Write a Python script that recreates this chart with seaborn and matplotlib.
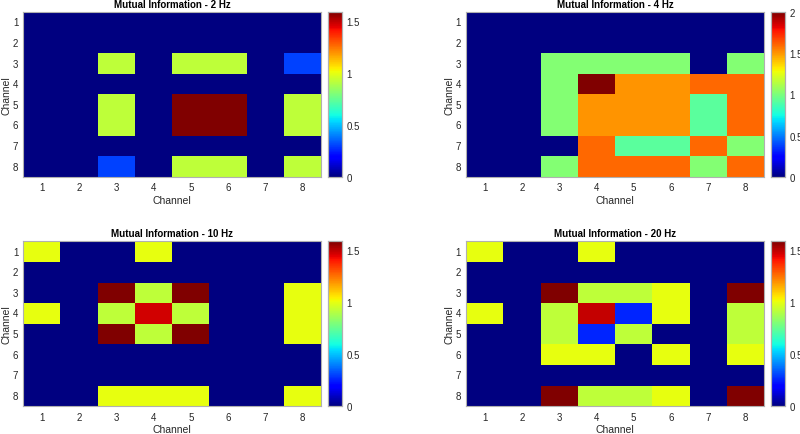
import numpy as np
import seaborn as sns
import matplotlib.pyplot as plt

# Channel labels
channels = [1, 2, 3, 4, 5, 6, 7, 8]

# Mutual information matrices (rows = channel on y, cols = channel on x)
mi_2hz = [
    [0, 0, 0, 0, 0, 0, 0, 0],
    [0, 0, 0, 0, 0, 0, 0, 0],
    [0, 0, 0.92, 0, 0.92, 0.92, 0, 0.30],
    [0, 0, 0, 0, 0, 0, 0, 0],
    [0, 0, 0.92, 0, 1.585, 1.585, 0, 0.92],
    [0, 0, 0.92, 0, 1.585, 1.585, 0, 0.92],
    [0, 0, 0, 0, 0, 0, 0, 0],
    [0, 0, 0.30, 0, 0.92, 0.92, 0, 0.92],
]

mi_4hz = [
    [0, 0, 0, 0, 0, 0, 0, 0],
    [0, 0, 0, 0, 0, 0, 0, 0],
    [0, 0, 1.02, 1.02, 1.02, 1.02, 0, 1.02],
    [0, 0, 1.02, 2.00, 1.50, 1.50, 1.60, 1.60],
    [0, 0, 1.02, 1.50, 1.50, 1.50, 0.92, 1.60],
    [0, 0, 1.02, 1.50, 1.50, 1.50, 0.92, 1.60],
    [0, 0, 0, 1.60, 0.92, 0.92, 1.60, 1.02],
    [0, 0, 1.02, 1.60, 1.60, 1.60, 1.02, 1.60],
]

mi_10hz = [
    [1.0, 0, 0, 1.0, 0, 0, 0, 0],
    [0, 0, 0, 0, 0, 0, 0, 0],
    [0, 0, 1.585, 0.92, 1.585, 0, 0, 1.0],
    [1.0, 0, 0.92, 1.47, 0.92, 0, 0, 1.0],
    [0, 0, 1.585, 0.92, 1.585, 0, 0, 1.0],
    [0, 0, 0, 0, 0, 0, 0, 0],
    [0, 0, 0, 0, 0, 0, 0, 0],
    [0, 0, 1.0, 1.0, 1.0, 0, 0, 1.0],
]

mi_20hz = [
    [1.0, 0, 0, 1.0, 0, 0, 0, 0],
    [0, 0, 0, 0, 0, 0, 0, 0],
    [0, 0, 1.585, 0.92, 0.92, 1.0, 0, 1.585],
    [1.0, 0, 0.92, 1.49, 0.26, 1.0, 0, 0.92],
    [0, 0, 0.92, 0.26, 0.92, 0, 0, 0.92],
    [0, 0, 1.0, 1.0, 0, 1.0, 0, 1.0],
    [0, 0, 0, 0, 0, 0, 0, 0],
    [0, 0, 1.585, 0.92, 0.92, 1.0, 0, 1.585],
]

panels = [
    ('Mutual Information - 2 Hz', mi_2hz, [0, 0.5, 1, 1.5]),
    ('Mutual Information - 4 Hz', mi_4hz, [0, 0.5, 1, 1.5, 2]),
    ('Mutual Information - 10 Hz', mi_10hz, [0, 0.5, 1, 1.5]),
    ('Mutual Information - 20 Hz', mi_20hz, [0, 0.5, 1, 1.5]),
]

sns.set_style('white')
plt.rcParams['font.family'] = ['Liberation Sans', 'DejaVu Sans']

fig = plt.figure(figsize=(8, 4.35), dpi=100)

# axes placement (figure fractions): left, bottom for heatmaps
lefts = [0.029, 0.5825, 0.029, 0.5825]
bottoms = [0.591, 0.591, 0.064, 0.064]
w, h = 0.3725, 0.379
cb_gap, cb_w = 0.009, 0.0175
grey = '#262626'
edge = '#b0b0b0'

for (title, mat, cticks), l, b in zip(panels, lefts, bottoms):
    ax = fig.add_axes([l, b, w, h])
    cax = fig.add_axes([l + w + cb_gap, b, cb_w, h])
    data = np.array(mat)
    sns.heatmap(data, ax=ax, cbar_ax=cax, cmap='jet', vmin=0, vmax=data.max(),
                xticklabels=channels, yticklabels=channels)
    ax.set_title(title, fontsize=7, fontweight='bold', color='black', pad=3.5)
    ax.set_xlabel('Channel', fontsize=7.5, color=grey, labelpad=2)
    ax.set_ylabel('Channel', fontsize=7.5, color=grey, labelpad=1)
    ax.tick_params(axis='both', labelsize=7, colors=grey, direction='in', length=2,
                   width=0.5, pad=4)
    ax.tick_params(axis='y', labelrotation=0, pad=3.5)
    for s in ax.spines.values():
        s.set_visible(True)
        s.set_color(edge)
        s.set_linewidth(0.8)

    cax.set_yticks(cticks)
    cax.set_yticklabels([f'{t:g}' for t in cticks])
    cax.tick_params(labelsize=7, colors=grey, direction='in', length=2, width=0.5, pad=3)
    for s in cax.spines.values():
        s.set_visible(True)
        s.set_color(edge)
        s.set_linewidth(0.8)

fig.savefig('out.png', dpi=100, facecolor='white')
